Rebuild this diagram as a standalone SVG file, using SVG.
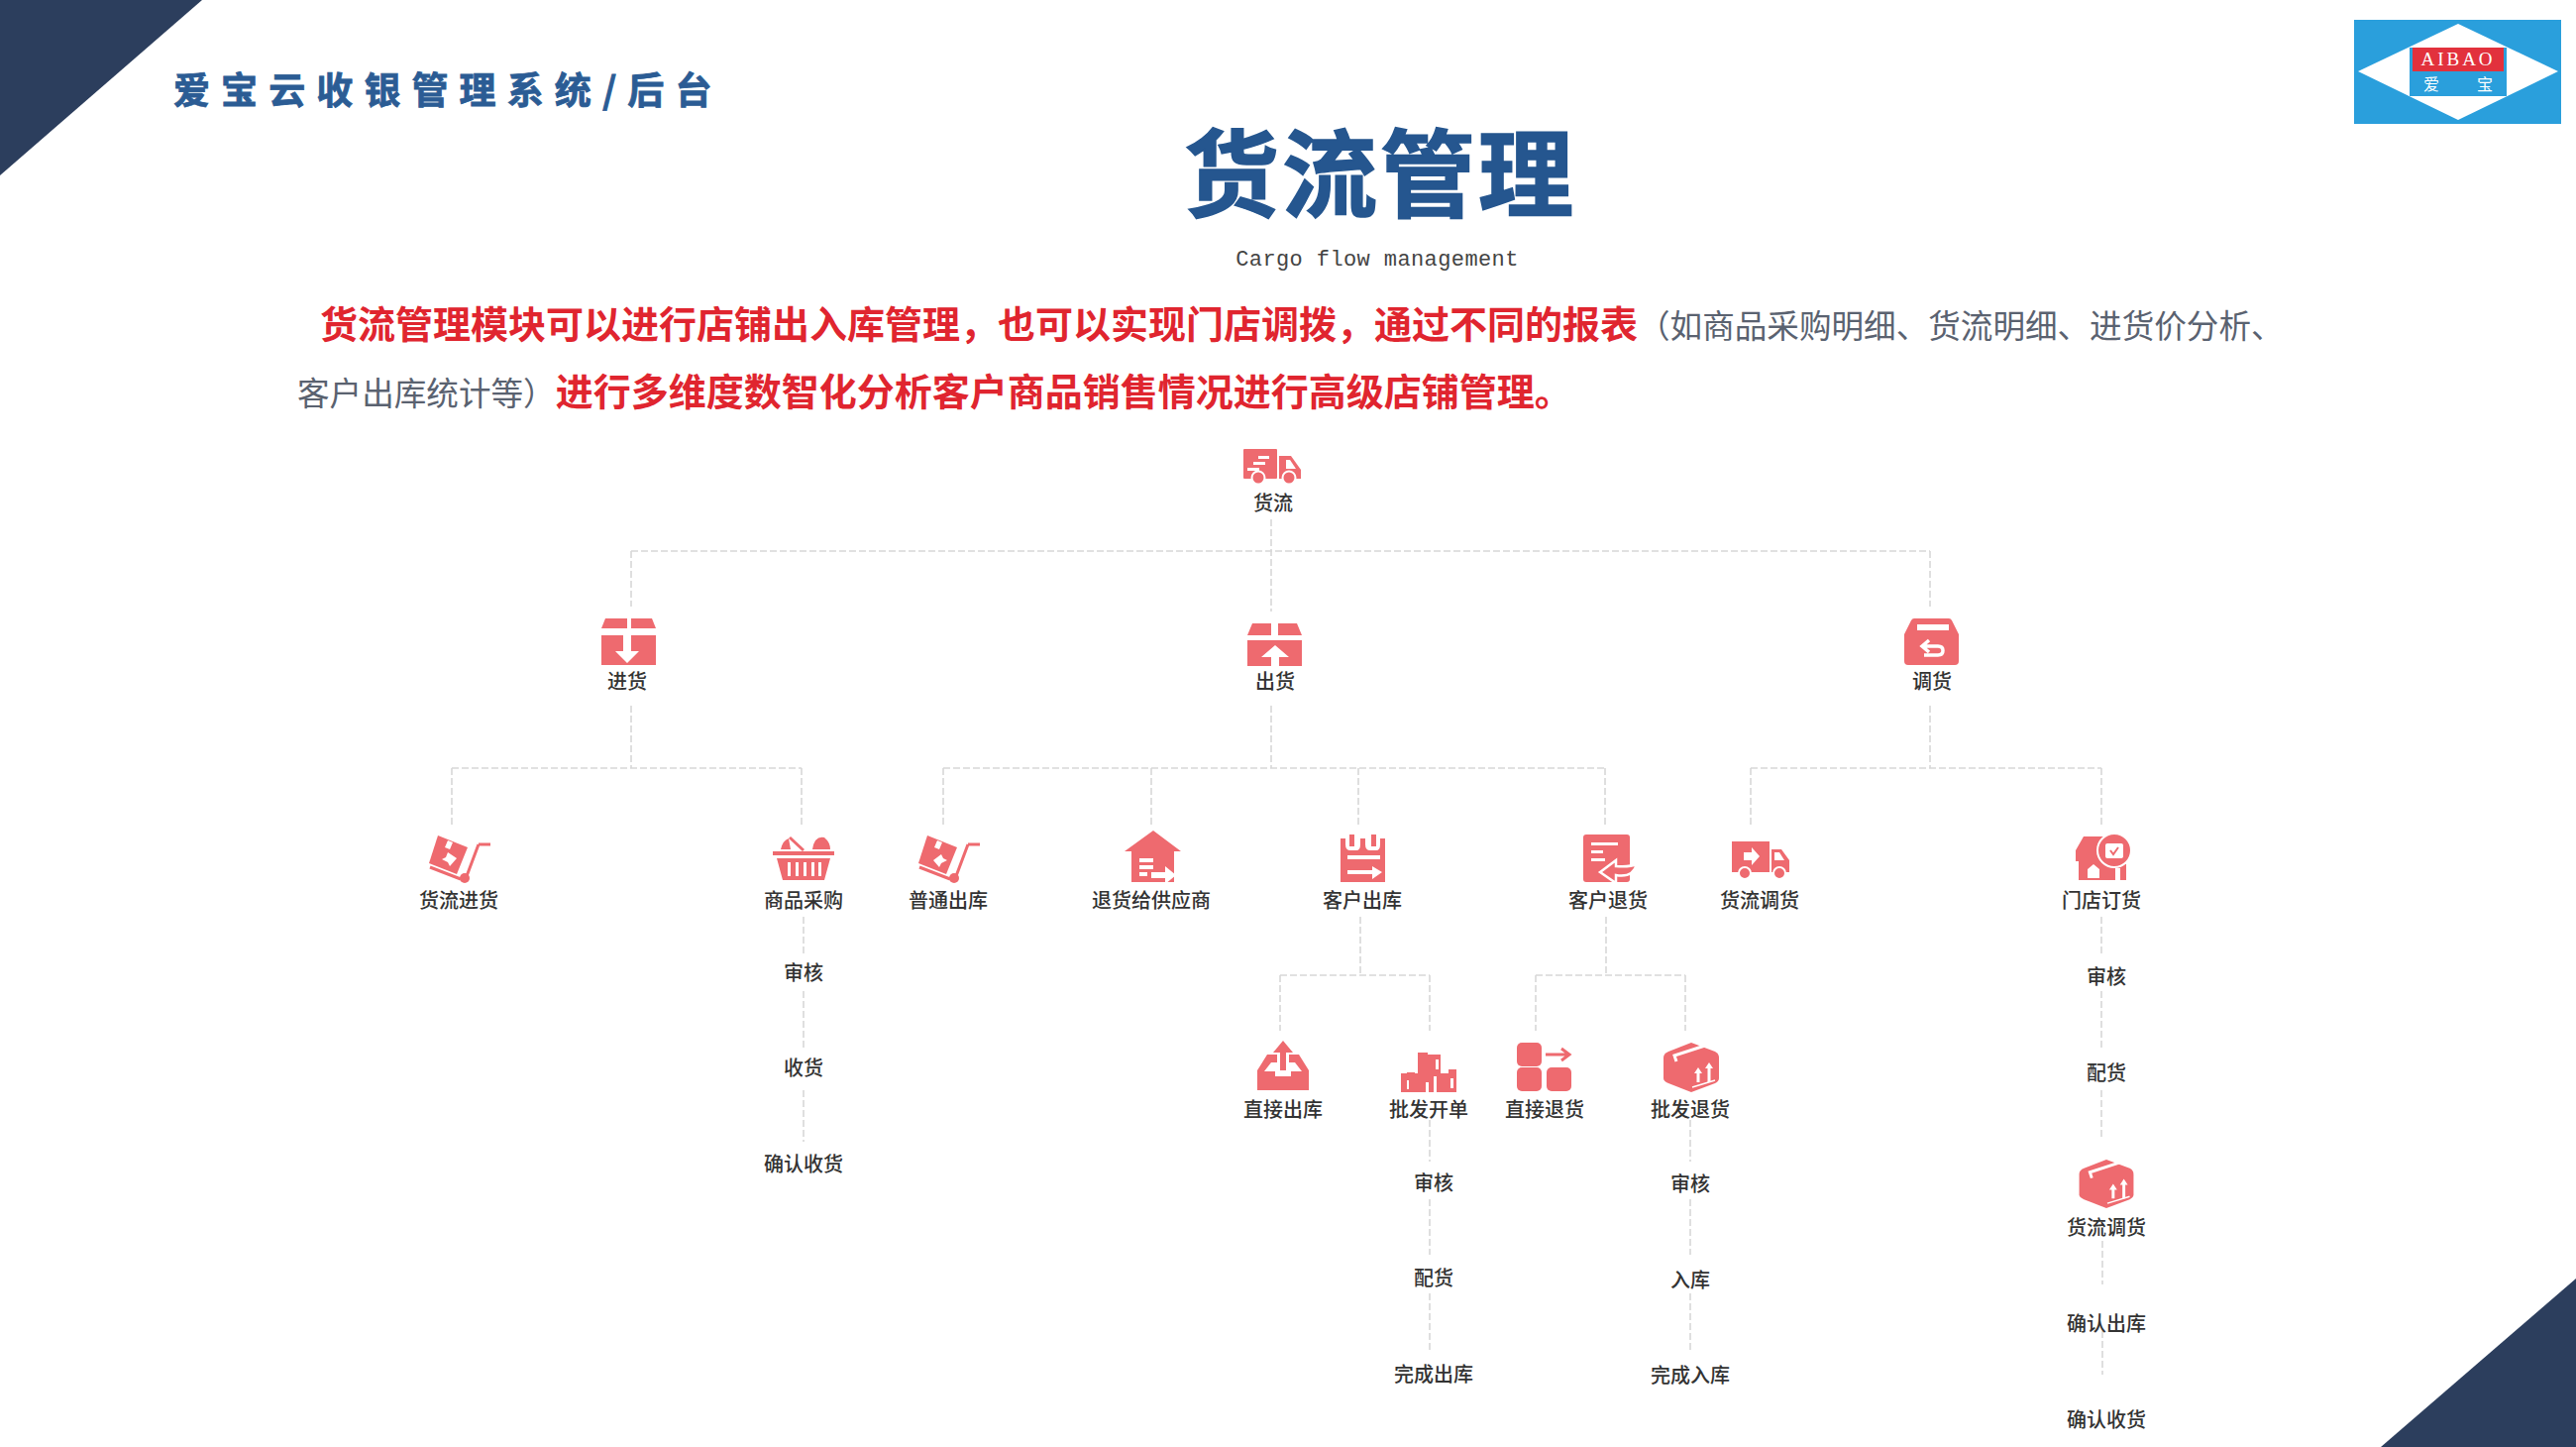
<svg xmlns="http://www.w3.org/2000/svg" width="2600" height="1460" viewBox="0 0 2600 1460">
<style>
.l{font:500 20px "Noto Sans CJK SC","Liberation Sans",sans-serif;fill:#333;text-anchor:middle}
.ic{fill:#ee6a6f}
.w{fill:#fff}
.ws{fill:none;stroke:#fff;stroke-width:3}
.c{fill:none;stroke:#d8d8d8;stroke-width:1.600;stroke-dasharray:7 3}
.cn{font-family:"Noto Sans CJK SC","Liberation Sans",sans-serif}
.red{font-weight:700;fill:#e0252f;font-size:38px}
.gr{font-weight:400;fill:#5a6270;font-size:32.600px}
</style>
<defs>
<symbol id="cart" viewBox="0 0 62 48"><path class="ic" d="M9 0 L39 12 L28 39 L0 28 Z"/><path class="w" d="M19 5 L24 7 L21 14 L16 12 Z"/><path d="M50 9 H62 M50 9 L38 41" fill="none" stroke="#ee6a6f" stroke-width="3"/><path d="M1 32 L32 44" fill="none" stroke="#ee6a6f" stroke-width="3"/><circle class="ic" cx="36" cy="43" r="5"/></symbol>
<symbol id="cube" viewBox="0 0 56 50"><path class="ic" d="M28 0 L52 9 Q56 11 56 15 V36 Q56 39 52 41 L28 50 L5 41 Q0 39 0 36 V15 Q0 11 5 9 Z"/><path class="ws" d="M13 19 L11 13 L42 3"/><path class="w" d="M35 25 l4 6 h-2.500 v9 h-3 v-9 h-2.500 Z M46 20 l4 6 h-2.500 v14 h-3 v-14 h-2.500 Z"/><path class="ws" d="M29 45 L52 38" style="stroke-width:1.500"/></symbol>
</defs>

<polygon points="0,0 204,0 0,177" fill="#2c3e5d"/>
<polygon points="2600,1290 2600,1460 2403,1460" fill="#2c3e5d"/>
<text x="175" y="105" class="cn" font-size="37" font-weight="700" fill="#2b5c94" stroke="#2b5c94" stroke-width="0.800" letter-spacing="11.100">爱宝云收银管理系统/后台</text>

<g id="logo">
<rect x="2376" y="20" width="209" height="105" fill="#2a9fdc"/>
<polygon points="2380,72 2481,24 2582,72 2481,121" fill="#fff"/>
<rect x="2432" y="48" width="98" height="49" fill="#2a9fdc"/>
<rect x="2435" y="48" width="92" height="24" fill="#e2313d"/>
<text x="2481" y="66" font-family="Liberation Serif,serif" font-size="19" fill="#fff" text-anchor="middle" letter-spacing="3">AIBAO</text>
<text x="2454" y="91" class="cn" font-size="16" fill="#fff" text-anchor="middle">爱</text>
<text x="2508" y="91" class="cn" font-size="16" fill="#fff" text-anchor="middle">宝</text>
</g>

<text x="1393" y="211" class="cn" font-size="96" font-weight="700" fill="#25568f" stroke="#25568f" stroke-width="1.500" text-anchor="middle" letter-spacing="3">货流管理</text>
<text x="1390" y="268" font-family="Liberation Mono,monospace" font-size="22" fill="#444" text-anchor="middle" letter-spacing="0.400">Cargo flow management</text>
<text x="323" y="341" class="cn"><tspan class="red">货流管理模块可以进行店铺出入库管理，也可以实现门店调拨，通过不同的报表</tspan><tspan class="gr">（如商品采购明细、货流明细、进货价分析、</tspan></text>
<text x="300" y="409" class="cn"><tspan class="gr">客户出库统计等）</tspan><tspan class="red">进行多维度数智化分析客户商品销售情况进行高级店铺管理。</tspan></text>

<g id="connectors">
<path class="c" d="M1283 524V617M637 556H1948M637 556V612M1948 556V612"/>
<path class="c" d="M1283 712V775M637 712V775M1948 712V775M456 775H809M952 775H1620M1767 775H2121"/>
<path class="c" d="M456 775V835M809 775V835M952 775V835M1162 775V835M1371 775V835M1620 775V835M1767 775V835M2121 775V835"/>
<path class="c" d="M1373 925V984M1292 984H1443M1292 984V1040M1443 984V1040M1621 925V984M1550 984H1701M1550 984V1040M1701 984V1040"/>
<path class="c" d="M811 925V965M811 1000V1060M811 1100V1152"/>
<path class="c" d="M2121 925V965M2121 1000V1060M2121 1100V1150M2122 1252V1296M2122 1343V1387"/>
<path class="c" d="M1443 1130V1172M1443 1210V1266M1443 1305V1362"/>
<path class="c" d="M1706 1130V1172M1706 1210V1266M1706 1305V1362"/>
</g>

<g id="n-huoliu">
<g transform="translate(1255,453)"><rect class="ic" width="34" height="30" rx="1"/><path class="ic" d="M36 7 H48 L58 21 V30 H36 Z"/><path class="w" d="M43 11 H47 L53 20 H43 Z"/><path class="w" d="M15 7 H26 V10 H15 Z M10 13 H22 V16 H10 Z M4 19 H16 V22 H4 Z"/><circle class="ic" cx="15" cy="29" r="6.500" stroke="#fff" stroke-width="2"/><circle class="ic" cx="46" cy="29" r="6.500" stroke="#fff" stroke-width="2"/></g>
<text class="l" x="1285" y="515">货流</text></g>

<g id="n-jinhuo">
<path class="ic" d="M611 624 H633 V634 H607 Z M637 624 H658 L662 634 H637 Z M607 641 H662 V671 H607 Z"/><path class="w" d="M629 641 H637 V657 H645 L633 669 L621 657 H629 Z"/>
<text class="l" x="633" y="695">进货</text></g>
<g id="n-chuhuo">
<path class="ic" d="M1264 629 H1283 V641 H1259 Z M1290 629 H1309 L1314 641 H1290 Z M1259 646 H1314 V672 H1259 Z"/><path class="w" d="M1287 651 L1301 663 H1291 V672 H1283 V663 H1273 Z"/>
<text class="l" x="1287" y="695">出货</text></g>
<g id="n-diaohuo">
<path class="ic" d="M1932 624 H1967 Q1969 624 1970 626 L1977 640 V667 Q1977 671 1973 671 H1926 Q1922 671 1922 667 V640 L1929 626 Q1930 624 1932 624 Z"/><rect class="w" x="1935" y="630" width="32" height="6"/><path class="ws" d="M1942 652 H1956 Q1961 652 1961 656.500 Q1961 661 1956 661 H1942 M1947 646 L1940 652 L1947 658" style="stroke-width:3.500"/>
<text class="l" x="1950" y="695">调货</text></g>

<g id="n-hljh"><use href="#cart" x="433" y="843" width="62" height="48"/><path class="w" d="M452 860 l9 6 l-7 8 l-2 -4 l-6 -3 l4 -2 Z"/>
<text class="l" x="463" y="916">货流进货</text></g>

<g id="n-spcg">
<path class="ic" d="M780 859 H842 V863 H780 Z M784 866 H838 L832 888 H790 Z M788 857 Q790 848 796 846 L798 857 Z M820 857 Q822 843 832 845 Q838 850 838 857 Z"/>
<path d="M797 845 L811 858" stroke="#ee6a6f" stroke-width="3" fill="none"/>
<path class="w" d="M795 870 h3 v14 h-3 Z M803 870 h3 v14 h-3 Z M811 870 h3 v14 h-3 Z M819 870 h3 v14 h-3 Z M826 870 h3 v14 h-3 Z"/>
<text class="l" x="811" y="916">商品采购</text></g>

<g id="n-ptck"><use href="#cart" x="927" y="843" width="62" height="48"/><path class="w" d="M950 862 l-8 6 l6 7 l2 -4 l6 -3 l-4 -2 Z"/>
<text class="l" x="957" y="916">普通出库</text></g>

<g id="n-thgys">
<path class="ic" d="M1164 838 L1192 859 H1185 V890 H1142 V859 H1135 Z"/>
<path class="w" d="M1150 866 h14 v4 h-14 Z M1150 873 h14 v4 h-14 Z M1150 880 h8 v4 h-8 Z M1162 880 H1176 V874 L1187 883 L1176 892 V886 H1162 Z"/>
<text class="l" x="1162" y="916">退货给供应商</text></g>

<g id="n-khck">
<path class="ic" d="M1353 846 H1358 V852 Q1358 858 1363 858 H1369 Q1373 858 1373 852 V846 H1378 V852 Q1378 858 1383 858 H1389 Q1393 858 1393 852 V846 H1398 V890 H1353 Z"/>
<path class="ic" d="M1362 842 h5 v12 h-5 Z M1384 842 h5 v12 h-5 Z"/>
<path class="w" d="M1360 863 H1393 V867 H1360 Z M1360 878 H1385 V874 L1395 880 L1385 887 V882 H1360 Z"/>
<text class="l" x="1375" y="916">客户出库</text></g>

<g id="n-khth">
<path class="ic" d="M1601 842 H1642 Q1645 842 1645 845 V887 Q1645 890 1642 890 H1601 Q1598 890 1598 887 V845 Q1598 842 1601 842 Z"/>
<path class="w" d="M1606 850 H1633 V853 H1606 Z M1606 858 H1618 V861 H1606 Z M1606 866 H1620 V869 H1606 Z"/>
<path class="ic" d="M1615 880 L1631 868 V874 Q1645 875 1652 872 Q1648 886 1631 883 V891 Z" stroke="#fff" stroke-width="2.500"/>
<text class="l" x="1623" y="916">客户退货</text></g>

<g id="n-hldh">
<path class="ic" d="M1748 849 H1786 V880 H1748 Z M1788 857 H1798 L1806 868 V880 H1788 Z"/>
<path class="w" d="M1760 860 H1768 V855 L1776 864 L1768 873 V868 H1760 Z M1791 860 H1796 L1801 868 H1791 Z"/>
<circle class="ic" cx="1761" cy="881" r="6" stroke="#fff" stroke-width="2"/><circle class="ic" cx="1796" cy="881" r="6" stroke="#fff" stroke-width="2"/>
<text class="l" x="1776" y="916">货流调货</text></g>

<g id="n-mddh">
<path class="ic" d="M2103 844 H2128 V872 H2146 V888 H2098 V869 H2095 V858 Z"/>
<circle cx="2134" cy="858" r="17" class="ic" stroke="#fff" stroke-width="2"/>
<rect class="w" x="2125" y="851" width="18" height="15" rx="2"/><path d="M2130 858 L2133 862 L2138 855" fill="none" stroke="#ee6a6f" stroke-width="2"/>
<path class="w" d="M2107 877 L2113 872 L2119 877 V886 H2107 Z M2135 876 H2140 V888 H2135 Z"/>
<text class="l" x="2121" y="916">门店订货</text></g>

<g id="n-sh1"><text class="l" x="811" y="989">审核</text></g>
<g id="n-sh2"><text class="l" x="811" y="1085">收货</text></g>
<g id="n-qr1"><text class="l" x="811" y="1182">确认收货</text></g>

<g id="n-zjck">
<path class="ic" d="M1279 1064 H1289 V1072 H1283 L1276 1081 H1287 V1086 H1303 V1081 H1314 L1307 1072 H1301 V1064 H1311 L1321 1080 V1100 H1269 V1080 Z"/>
<path class="ic" d="M1292 1080 V1062 H1285 L1295 1050 L1305 1062 H1298 V1080 Z"/>
<text class="l" x="1295" y="1127">直接出库</text></g>

<g id="n-pfkd">
<path class="ic" d="M1431 1064 V1062 H1441 V1064 H1454 V1083 H1462 V1079 H1470 V1102 H1414 V1083 H1420 V1082 H1428 V1083 H1431 Z"/>
<path class="w" d="M1449 1069 h3 v10 h-3 Z M1439 1092 h3 v10 h-3 Z M1447 1086 h3 v16 h-3 Z M1464 1088 h3 v10 h-3 Z M1420 1090 h2 v9 h-2 Z"/>
<text class="l" x="1442" y="1127">批发开单</text></g>

<g id="n-zjth">
<rect class="ic" x="1531" y="1052" width="25" height="24" rx="5"/><rect class="ic" x="1531" y="1077" width="25" height="24" rx="5"/><rect class="ic" x="1561" y="1077" width="25" height="24" rx="5"/>
<path d="M1560 1064 H1583 M1576 1058 L1584 1064 L1576 1070" fill="none" stroke="#ee6a6f" stroke-width="3"/>
<text class="l" x="1559" y="1127">直接退货</text></g>

<g id="n-pfth"><use href="#cube" x="1679" y="1052" width="56" height="50"/><text class="l" x="1706" y="1127">批发退货</text></g>

<g id="n-kf1"><text class="l" x="1447" y="1201">审核</text></g>
<g id="n-kf2"><text class="l" x="1447" y="1297">配货</text></g>
<g id="n-kf3"><text class="l" x="1447" y="1394">完成出库</text></g>
<g id="n-th1"><text class="l" x="1706" y="1202">审核</text></g>
<g id="n-th2"><text class="l" x="1706" y="1299">入库</text></g>
<g id="n-th3"><text class="l" x="1706" y="1395">完成入库</text></g>
<g id="n-md1"><text class="l" x="2126" y="993">审核</text></g>
<g id="n-md2"><text class="l" x="2126" y="1090">配货</text></g>
<g id="n-md3"><use href="#cube" x="2098" y="1170" width="56" height="49"/><text class="l" x="2126" y="1246">货流调货</text></g>
<g id="n-md4"><text class="l" x="2126" y="1343">确认出库</text></g>
<g id="n-md5"><text class="l" x="2126" y="1440">确认收货</text></g>
</svg>
